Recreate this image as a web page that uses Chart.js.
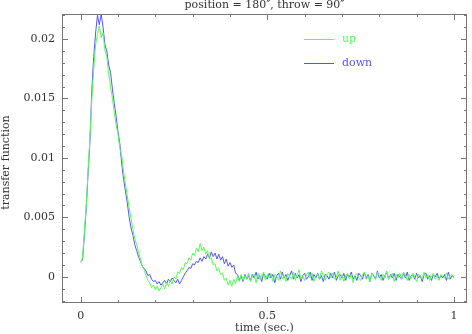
<!DOCTYPE html>
<html>
<head>
<meta charset="utf-8">
<script src="https://cdn.jsdelivr.net/npm/chart.js@4"></script>
<style>
  html, body { margin: 0; padding: 0; background: #fff; }
  #wrap { width: 472px; height: 334px; }
</style>
</head>
<body>
<div id="wrap"><canvas id="myChart" width="472" height="334"></canvas></div>
<script>
const chartTitle = 'position = 180\u2033, throw = 90\u2033';
const xTitle = 'time (sec.)';
const yTitle = 'transfer function';
const seriesNames = ['up', 'down'];
const timeStep = 0.005; // sampling step of both series (sec.)

const xTicks = [0, 0.5, 1];
const xTickLabels = ['0', '0.5', '1'];
const yTicks = [0, 0.005, 0.01, 0.015, 0.02];
const yTickLabels = ['0', '0.005', '0.01', '0.015', '0.02'];

const upValues = [
  0.0012,0.0016,0.0038,0.0060,0.0090,0.0118,0.0150,0.0175,0.0195,0.0204,0.0211,0.0201,
  0.0205,0.0190,0.0185,0.0170,0.0160,0.0150,0.0138,0.0128,0.0120,0.0108,0.0102,0.0088,0.0078,0.0068,0.0058,0.0049,0.0040,0.0032,
  0.0027,0.0021,0.0015,0.0009,0.0006,0.0001,-0.0003,-0.0005,-0.0009,-0.0007,
  -0.0011,-0.0008,-0.0012,-0.0009,-0.0006,-0.0010,-0.0005,-0.0008,-0.0003,-0.0006,
  0.0000,-0.0002,0.0004,0.0003,0.0008,0.0006,0.0012,0.0011,0.0016,0.0014,
  0.0020,0.0018,0.0024,0.0021,0.0028,0.0022,0.0025,0.0019,0.0022,0.0015,
  0.0016,0.0010,0.0011,0.0005,0.0007,0.0002,0.0003,-0.0003,-0.0001,-0.0007,
  -0.0003,-0.0008,-0.0002,-0.0006,0.0001,-0.0004,0.0002,-0.0003,0.0001,-0.0002,
  0.0003,-0.0004,0.0001,0.0002,-0.0005,0.0003,-0.0002,0.0001,0.0004,-0.0003,
  0.0002,-0.0001,0.0003,-0.0004,0.0002,0.0001,-0.0003,0.0005,-0.0002,0.0001,
  -0.0004,0.0003,0.0000,-0.0002,0.0004,-0.0003,0.0002,0.0006,-0.0002,0.0001,
  -0.0003,0.0002,0.0004,-0.0001,0.0003,-0.0004,0.0001,0.0002,-0.0002,0.0005,
  0.0001,-0.0003,0.0002,0.0004,-0.0001,0.0003,-0.0002,0.0000,0.0005,-0.0003,
  0.0002,-0.0004,0.0001,0.0003,-0.0002,0.0002,-0.0005,0.0001,0.0003,-0.0001,
  -0.0003,0.0002,0.0004,-0.0002,0.0001,-0.0004,0.0003,0.0000,-0.0002,0.0004,
  0.0001,-0.0003,0.0002,-0.0001,0.0005,-0.0002,0.0001,0.0003,-0.0004,0.0002,
  -0.0001,0.0003,-0.0002,0.0004,0.0001,-0.0003,0.0002,-0.0002,0.0003,0.0000,
  -0.0004,0.0002,0.0001,-0.0002,0.0004,-0.0001,0.0002,-0.0003,0.0001,0.0003,
  -0.0002,0.0001,-0.0003,0.0002,0.0000,-0.0001,0.0003,-0.0002,0.0001,0.0002,
  -0.0001
];

const downValues = [
  0.0013,0.0014,0.0035,0.0058,0.0088,0.0115,0.0158,0.0185,0.0205,0.0220,0.0212,0.0221,
  0.0210,0.0195,0.0190,0.0178,0.0172,0.0158,0.0146,0.0135,0.0122,0.0112,0.0095,0.0082,0.0072,0.0062,0.0050,0.0041,0.0035,0.0027,
  0.0022,0.0017,0.0013,0.0009,0.0007,0.0005,0.0001,0.0002,-0.0002,-0.0004,
  -0.0003,-0.0006,-0.0004,-0.0007,-0.0005,-0.0003,-0.0006,-0.0002,-0.0004,-0.0001,
  -0.0003,-0.0005,-0.0002,-0.0006,-0.0003,0.0000,0.0003,0.0005,0.0008,0.0007,
  0.0011,0.0010,0.0013,0.0012,0.0016,0.0013,0.0017,0.0015,0.0019,0.0016,
  0.0021,0.0017,0.0020,0.0015,0.0019,0.0014,0.0017,0.0011,0.0015,0.0009,
  0.0012,0.0008,0.0010,0.0003,0.0002,-0.0003,0.0001,-0.0004,0.0002,-0.0002,
  0.0001,-0.0003,0.0002,-0.0001,0.0004,-0.0002,0.0001,-0.0004,0.0003,0.0000,
  -0.0002,0.0003,-0.0001,0.0002,-0.0005,0.0001,0.0003,-0.0002,0.0004,-0.0001,
  0.0002,-0.0003,0.0001,0.0005,-0.0002,0.0003,-0.0001,0.0002,-0.0004,0.0001,
  0.0003,-0.0002,0.0000,0.0004,-0.0003,0.0002,-0.0001,0.0003,-0.0002,0.0001,
  -0.0004,0.0002,0.0001,-0.0002,0.0003,-0.0001,0.0004,-0.0003,0.0001,0.0002,
  -0.0001,0.0003,-0.0003,0.0002,0.0000,0.0004,-0.0002,0.0001,-0.0003,0.0003,
  0.0001,-0.0002,0.0004,-0.0001,0.0002,-0.0004,0.0003,0.0001,-0.0002,0.0005,
  -0.0001,0.0002,-0.0003,0.0001,0.0004,-0.0002,0.0002,-0.0001,0.0003,-0.0003,
  0.0002,0.0000,-0.0002,0.0003,-0.0001,0.0004,-0.0003,0.0001,0.0002,-0.0002,
  0.0003,-0.0001,0.0001,-0.0004,0.0002,0.0003,-0.0002,0.0001,-0.0003,0.0002,
  0.0000,0.0003,-0.0002,0.0001,-0.0001,0.0002,-0.0003,0.0004,-0.0002,0.0001,
  0.0000
];

const toPoints = vals => vals.map((v, i) => ({ x: i * timeStep, y: v }));

const FONT = '11px "DejaVu Serif", "Liberation Serif", serif';
const TEXT = '#333';
const FRAME = '#777';

// frame with inward ticks on all four sides, labels, titles and legend
const framePlugin = {
  id: 'frame',
  afterDatasetsDraw(chart) {
    const c = chart.ctx;
    const a = chart.chartArea;
    const xs = chart.scales.x, ys = chart.scales.y;
    c.save();
    c.strokeStyle = FRAME;
    c.lineWidth = 1;
    c.strokeRect(Math.round(a.left) + 0.5, Math.round(a.top) + 0.5,
                 Math.round(a.right - a.left) - 1, Math.round(a.bottom - a.top) - 1);

    c.beginPath();
    for (let i = 0; i <= 10; i++) {
      const v = i / 10;
      const px = Math.round(xs.getPixelForValue(v)) + 0.5;
      const len = (i % 5 === 0) ? 6 : 3;
      c.moveTo(px, a.bottom); c.lineTo(px, a.bottom - len);
      c.moveTo(px, a.top); c.lineTo(px, a.top + len);
    }
    for (let i = -2; i <= 22; i++) {
      const v = i / 1000;
      const py = Math.round(ys.getPixelForValue(v)) + 0.5;
      const len = (i % 5 === 0) ? 6 : 3;
      c.moveTo(a.left, py); c.lineTo(a.left + len, py);
      c.moveTo(a.right, py); c.lineTo(a.right - len, py);
    }
    c.stroke();

    c.fillStyle = TEXT;
    c.font = FONT;
    c.textBaseline = 'middle';
    c.textAlign = 'right';
    yTicks.forEach((v, i) => c.fillText(yTickLabels[i], 55, ys.getPixelForValue(v)));
    c.textAlign = 'center';
    xTicks.forEach((v, i) => c.fillText(xTickLabels[i], xs.getPixelForValue(v), 316));
    c.fillText(xTitle, (a.left + a.right) / 2, 328);
    c.fillText(chartTitle, (a.left + a.right) / 2, 5);

    c.save();
    c.translate(6, (a.top + a.bottom) / 2 + 4);
    c.rotate(-Math.PI / 2);
    c.fillText(yTitle, 0, 0);
    c.restore();

    // legend
    chart.data.datasets.forEach((ds, i) => {
      const y = 40 + i * 24 - 0.5;
      c.strokeStyle = ds.borderColor;
      c.beginPath();
      c.moveTo(304, y); c.lineTo(334, y);
      c.stroke();
      c.fillStyle = ds.borderColor;
      c.textAlign = 'left';
      c.fillText(ds.label, 342, y);
    });
    c.restore();
  }
};

const ctx = document.getElementById('myChart').getContext('2d');
const myChart = new Chart(ctx, {
  type: 'line',
  data: {
    datasets: [
      { label: seriesNames[0], data: toPoints(upValues), borderColor: '#55ff55' },
      { label: seriesNames[1], data: toPoints(downValues), borderColor: '#5555ff' }
    ]
  },
  options: {
    responsive: false,
    animation: false,
    layout: { padding: { left: 62, right: 5, top: 14, bottom: 31 } },
    elements: {
      point: { radius: 0 },
      line: { borderWidth: 1, tension: 0 }
    },
    scales: {
      x: { type: 'linear', min: -0.05, max: 1.035, display: false },
      y: { min: -0.0022, max: 0.0221, display: false }
    },
    plugins: {
      legend: { display: false },
      tooltip: { enabled: false }
    }
  },
  plugins: [framePlugin]
});
</script>
</body>
</html>
